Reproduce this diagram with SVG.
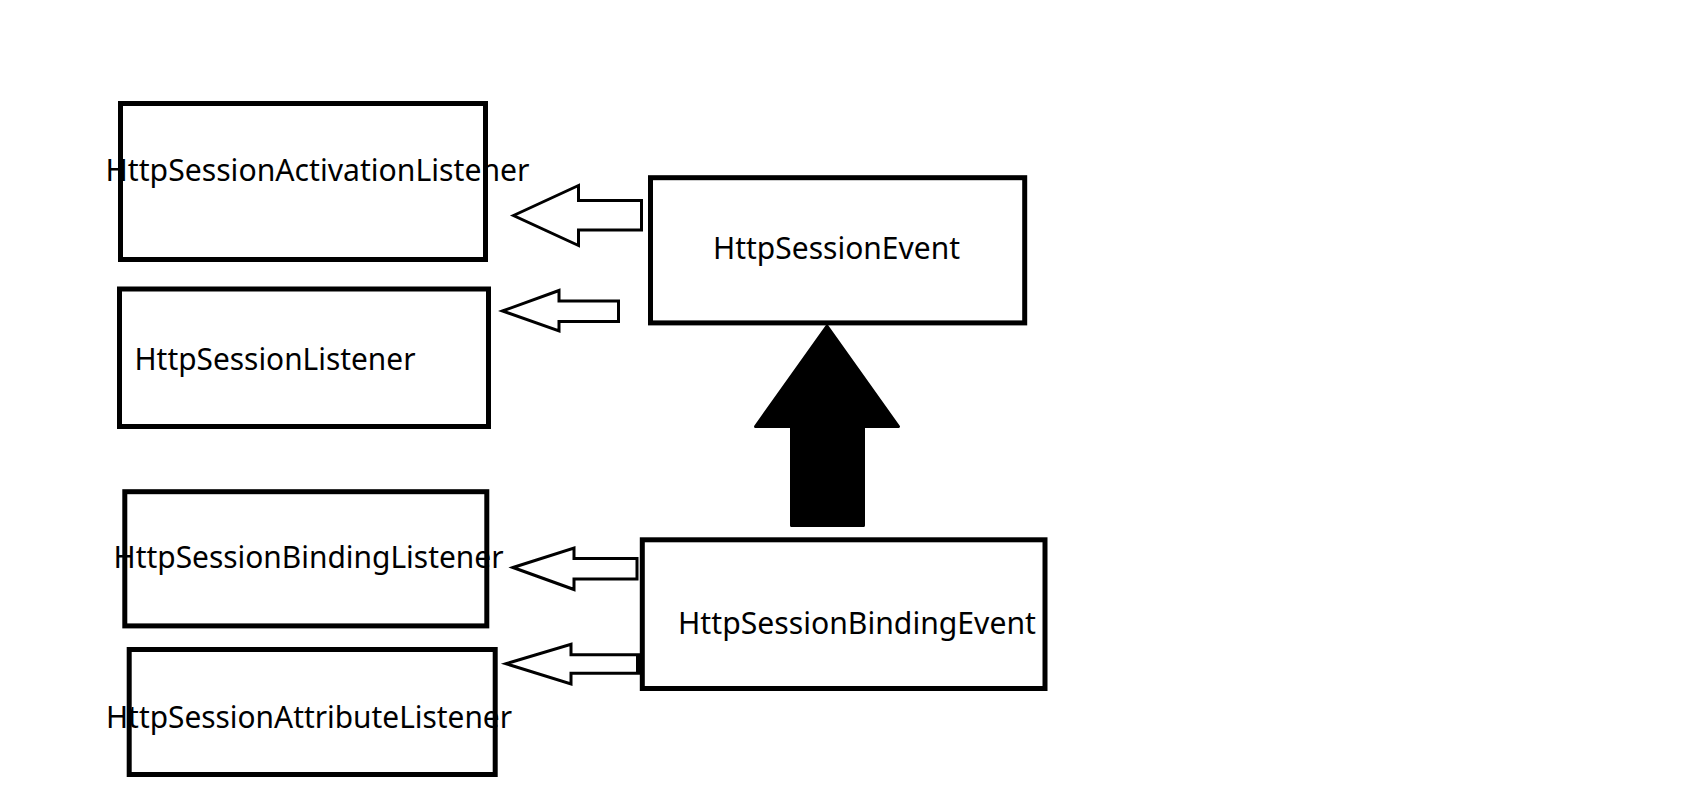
<svg xmlns="http://www.w3.org/2000/svg" width="1697" height="801" viewBox="0 0 1697 801">
<style>
.box{fill:#fff;stroke:#000;stroke-width:5}
.lbl{font-family:"Noto Sans","Open Sans","DejaVu Sans",sans-serif;font-size:31px;fill:#000}
.hollow{fill:#fff;stroke:#000;stroke-width:3;stroke-linejoin:miter}
.solid{fill:#000;stroke:#000;stroke-width:3;stroke-linejoin:round}
</style>
<rect width="1697" height="801" fill="#fff"/>
<g id="node-activation">
<rect class="box" x="120.5" y="103.5" width="365" height="156"/>
<text class="lbl" x="105.5" y="181" textLength="424" lengthAdjust="spacingAndGlyphs">HttpSessionActivationListener</text>
</g>
<g id="node-sessionlistener">
<rect class="box" x="119.5" y="289" width="369" height="137.5"/>
<text class="lbl" x="134.5" y="369.5" textLength="281" lengthAdjust="spacingAndGlyphs">HttpSessionListener</text>
</g>
<g id="node-bindinglistener">
<rect class="box" x="124.8" y="491.7" width="362" height="134.2"/>
<text class="lbl" x="113.5" y="568" textLength="390" lengthAdjust="spacingAndGlyphs">HttpSessionBindingListener</text>
</g>
<g id="node-attributelistener">
<rect class="box" x="129.2" y="649.5" width="366" height="125"/>
<text class="lbl" x="106" y="728" textLength="406" lengthAdjust="spacingAndGlyphs">HttpSessionAttributeListener</text>
</g>
<g id="node-sessionevent">
<rect class="box" x="650.5" y="177.7" width="374.2" height="145.2"/>
<text class="lbl" x="713" y="259" textLength="247" lengthAdjust="spacingAndGlyphs">HttpSessionEvent</text>
</g>
<g id="node-bindingevent">
<rect class="box" x="642.3" y="539.8" width="402.7" height="148.7"/>
<text class="lbl" x="678" y="633.5" textLength="358" lengthAdjust="spacingAndGlyphs">HttpSessionBindingEvent</text>
</g>
<g id="connectors">
<polygon class="hollow" points="513.5,215.5 578.5,185.5 578.5,200.5 641.5,200.5 641.5,230 578.5,230 578.5,245.5"/>
<polygon class="hollow" points="502.5,311 559,290.5 559,301 618.5,301 618.5,321.5 559,321.5 559,331"/>
<polygon class="hollow" points="513,567.5 574,548 574,558.5 637,558.5 637,579 574,579 574,589.5"/>
<polygon class="hollow" points="506,663.7 571,644.2 571,654.7 639,654.7 639,673.3 571,673.3 571,684"/>
<polygon class="solid" points="827,326 898.5,426.5 863.5,426.5 863.5,525.5 791.5,525.5 791.5,426.5 755.5,426.5"/>
<rect x="636" y="654.7" width="8" height="18.6" fill="#000"/>
</g>
</svg>
